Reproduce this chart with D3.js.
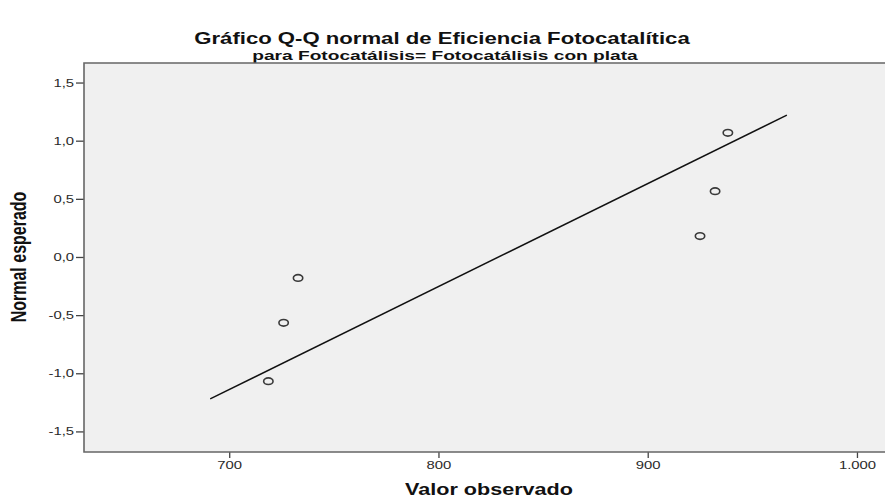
<!DOCTYPE html>
<meta charset="utf-8">
<style>
body { margin: 0; background: #fff; }
.axis .domain { display: none; }
.axis line { stroke: #444; stroke-width: 1.3px; }
.axis text { font: 11px "Liberation Sans", Arial, sans-serif; fill: #2a2a2a; }
.title { font: bold 16.4px "Liberation Sans", Arial, sans-serif; fill: #111; }
.subtitle { font: bold 13.2px "Liberation Sans", Arial, sans-serif; fill: #111; }
.ylabel { font: bold 16px "Liberation Sans", Arial, sans-serif; fill: #111; }
.xlabel { font: bold 16px "Liberation Sans", Arial, sans-serif; fill: #111; }
</style>
<svg width="885" height="498"></svg>
<script src="https://cdn.jsdelivr.net/npm/d3@7"></script>
<script>
// observed values and expected normal quantiles (n = 6)
var observed = [718.7, 726.0, 732.9, 925.0, 932.2, 938.3];
var expected = [-1.068, -0.566, -0.180, 0.180, 0.566, 1.068];

// reference line endpoints
var lineX = [690.9, 966.5];
var lineY = [-1.22, 1.22];

var xTicks = [700, 800, 900, 1000];
var yTicks = [-1.5, -1.0, -0.5, 0.0, 0.5, 1.0, 1.5];

// the source picture is stretched sideways, text too
var S = 1.35;

var es = d3.formatLocale({decimal: ",", thousands: ".", grouping: [3], currency: ["", " €"], minus: "-"});

var svg = d3.select("svg"),
    margin = {top: 63, right: 0, bottom: 46, left: 84},
    width = +svg.attr("width") - margin.left - margin.right,
    height = +svg.attr("height") - margin.top - margin.bottom;

var x = d3.scaleLinear().domain([630.6, 1013.4]).range([margin.left, margin.left + width]);
var y = d3.scaleLinear().domain([-1.677, 1.668]).range([margin.top + height, margin.top]);

function label(cls, cx, cy, txt, s) {
  svg.append("text").attr("class", cls)
      .attr("transform", "translate(" + cx + "," + cy + ") scale(" + (s || S) + ",1)")
      .attr("text-anchor", "middle")
      .text(txt);
}

// plot background
svg.append("rect")
    .attr("x", margin.left).attr("y", margin.top)
    .attr("width", width + 2).attr("height", height)
    .attr("fill", "#f0f0f0");

label("title", 442, 44, "Gráfico Q-Q normal de Eficiencia Fotocatalítica");
label("subtitle", 445, 60, "para Fotocatálisis= Fotocatálisis con plata", 1.45);

// reference line
svg.append("line")
    .attr("x1", x(lineX[0])).attr("y1", y(lineY[0]))
    .attr("x2", x(lineX[1])).attr("y2", y(lineY[1]))
    .attr("stroke", "#111").attr("stroke-width", 1.5);

svg.selectAll("ellipse.pt")
    .data(observed)
    .enter().append("ellipse")
      .attr("class", "pt")
      .attr("cx", d => x(d))
      .attr("cy", (d, i) => y(expected[i]))
      .attr("rx", 4.7)
      .attr("ry", 3.3)
      .attr("fill", "none")
      .attr("stroke", "#3a3a3a")
      .attr("stroke-width", 1.6);

// axes
var gx = svg.append("g").attr("class", "axis")
    .attr("transform", "translate(0," + (margin.top + height) + ")")
    .call(d3.axisBottom(x).tickValues(xTicks).tickSize(6).tickPadding(3).tickFormat(es.format(",d")));
gx.selectAll(".tick text").attr("transform", "scale(" + S + ",1)");

var gy = svg.append("g").attr("class", "axis")
    .attr("transform", "translate(" + margin.left + ",0)")
    .call(d3.axisLeft(y).tickValues(yTicks).tickSize(8).tickPadding(2).tickFormat(es.format(".1f")));
gy.selectAll(".tick text")
    .attr("x", -10 / S)
    .attr("transform", "scale(" + S + ",1)");

// frame (top, left, bottom)
svg.append("path")
    .attr("d", "M" + (margin.left + width + 2) + "," + margin.top + "H" + margin.left + "V" + (margin.top + height) + "H" + (margin.left + width + 2))
    .attr("fill", "none").attr("stroke", "#666").attr("stroke-width", 1.6);

label("xlabel", 489, 495, "Valor observado");
svg.append("text").attr("class", "ylabel")
    .attr("transform", "translate(26," + y(0) + ") rotate(-90) scale(1," + S + ")")
    .attr("text-anchor", "middle")
    .text("Normal esperado");
</script>
